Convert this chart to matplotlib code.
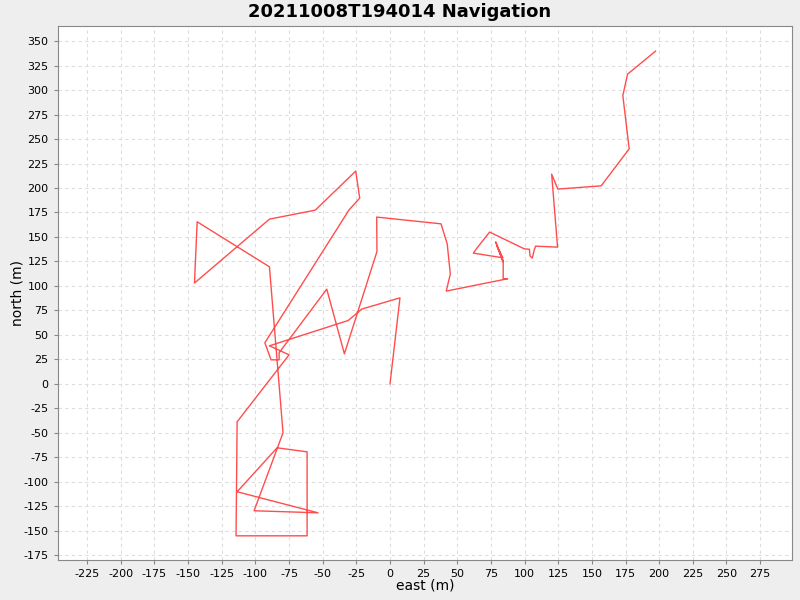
import matplotlib
matplotlib.use("Agg")
import matplotlib.pyplot as plt
from matplotlib.ticker import MultipleLocator

plt.rcParams["axes.unicode_minus"] = False

title = "20211008T194014 Navigation"

# track positions (metres)
east = [0, 7.4, -21.0, -31.0, -89.6, -75.0, -113.6, -114.4, -61.6, -61.6,
        -83.9, -113.6, -53.5, -101.0, -79.5, -89.6, -143.3, -145.3, -89.6, -55.5,
        -25.5, -22.5, -30.4, -93.0, -88.4, -82.4, -82.4, -47.0, -33.9, -9.7,
        -9.9, 37.9, 42.5, 44.8, 41.8, 87.4, 84.1, 84.1, 78.5, 83.2,
        79.5, 84.3, 80.9, 83.9, 61.9, 64.6, 74.0, 99.7, 103.6, 104.0,
        105.7, 107.2, 108.2, 124.5, 120.1, 124.7, 156.9, 177.7, 173.0, 176.5,
        197.3]
north = [0, 87.8, 76.3, 64.7, 38.8, 29.6, -38.8, -155.3, -155.3, -69.5,
         -65.4, -110.3, -131.8, -129.7, -50.1, 119.5, 165.5, 102.9, 168.2, 177.4,
         217.3, 189.7, 177.7, 41.9, 24.5, 24.5, 31.7, 96.7, 30.6, 135.1,
         170.3, 163.4, 143.0, 112.1, 94.7, 107.3, 107.3, 123.6, 145.0, 128.7,
         141.0, 124.6, 136.9, 128.7, 133.5, 138.6, 155.0, 137.9, 137.4, 130.7,
         128.4, 136.9, 140.6, 139.6, 214.2, 198.9, 202.2, 240.0, 294.5, 316.3,
         339.8]

fig = plt.figure(figsize=(8, 6), dpi=100, facecolor="#eeeeee")
ax = fig.add_axes([0.072, 0.067, 0.918, 0.89])
ax.set_facecolor("white")

ax.plot(east, north, color="#ff4d4d", linewidth=1.0)

ax.set_xlim(-247, 298.7)
ax.set_ylim(-179.8, 365.7)
ax.xaxis.set_major_locator(MultipleLocator(25))
ax.yaxis.set_major_locator(MultipleLocator(25))
ax.grid(True, color="#dddddd", linestyle=(0, (3, 3)), linewidth=0.8)
ax.set_axisbelow(True)

for s in ax.spines.values():
    s.set_color("#888888")
ax.tick_params(colors="#888888", labelcolor="black", labelsize=8, length=3)

ax.set_xlabel("east (m)", fontsize=10, labelpad=0)
ax.set_ylabel("north (m)", fontsize=10, labelpad=-1)
fig.suptitle(title, fontsize=13, fontweight="bold", y=0.995)

plt.savefig("out.png", dpi=100, facecolor=fig.get_facecolor())
